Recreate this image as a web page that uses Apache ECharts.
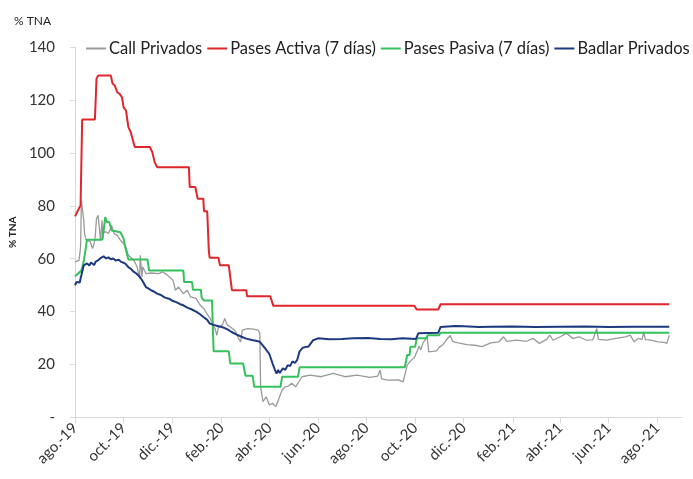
<!DOCTYPE html>
<html>
<head>
<meta charset="utf-8">
<script src="https://cdn.jsdelivr.net/npm/echarts@6/dist/echarts.min.js"></script>
<style>
html,body{margin:0;padding:0;background:#fff;}
#chart{width:693px;height:479px;}
</style>
</head>
<body>
<div id="chart"></div>
<script>
// ---- DATA ----
var tickDates = ['2019-08-01','2019-10-01','2019-12-01','2020-02-01','2020-04-01','2020-06-01','2020-08-01','2020-10-01','2020-12-01','2021-02-01','2021-04-01','2021-06-01','2021-08-01'];
var tickLabels = ['ago.-19','oct.-19','dic.-19','feb.-20','abr.-20','jun.-20','ago.-20','oct.-20','dic.-20','feb.-21','abr.-21','jun.-21','ago.-21'];

var seriesNames = ['Call Privados','Pases Activa (7 días)','Pases Pasiva (7 días)','Badlar Privados'];

var callPrivados = [
['2019-08-01',58.8],['2019-08-06',59.4],['2019-08-08',64.4],['2019-08-09',82.0],['2019-08-12',74.5],['2019-08-13',69.5],
['2019-08-15',67.0],['2019-08-20',66.5],['2019-08-23',63.8],['2019-08-26',67.0],['2019-08-28',75.1],['2019-08-30',76.4],
['2019-09-02',67.0],['2019-09-04',74.5],['2019-09-05',67.5],['2019-09-06',70.1],['2019-09-09',70.1],['2019-09-12',69.5],
['2019-09-16',72.6],['2019-09-19',69.5],['2019-09-23',68.8],['2019-09-27',67.0],['2019-10-03',65.1],['2019-10-07',61.3],
['2019-10-14',59.4],['2019-10-18',56.9],['2019-10-21',52.5],['2019-10-22',61.3],['2019-10-24',53.1],['2019-10-25',56.9],
['2019-10-29',54.4],['2019-11-05',54.6],['2019-11-14',54.4],['2019-11-19',55.0],['2019-11-25',53.8],['2019-12-02',51.9],
['2019-12-05',48.1],['2019-12-09',49.3],['2019-12-15',46.8],['2019-12-20',48.1],['2019-12-24',45.6],['2019-12-31',45.0],
['2020-01-05',42.5],['2020-01-10',41.0],['2020-01-14',39.0],['2020-01-18',37.4],['2020-01-21',35.0],['2020-01-24',33.5],
['2020-01-26',31.0],['2020-01-28',34.0],['2020-02-02',35.0],['2020-02-05',37.4],['2020-02-08',35.0],['2020-02-13',34.0],
['2020-02-18',32.8],['2020-02-22',30.0],['2020-02-25',28.6],['2020-02-27',33.0],['2020-03-05',33.6],['2020-03-12',33.4],
['2020-03-18',33.0],['2020-03-20',31.8],['2020-03-21',11.6],['2020-03-24',6.0],['2020-03-28',7.8],['2020-04-01',4.7],
['2020-04-05',5.4],['2020-04-09',4.1],['2020-04-13',7.2],['2020-04-17',10.4],['2020-04-21',11.6],['2020-04-25',11.9],
['2020-04-29',12.9],['2020-05-04',11.6],['2020-05-08',13.5],['2020-05-12',15.4],['2020-05-22',16.0],['2020-06-05',15.4],
['2020-06-20',16.7],['2020-07-05',15.4],['2020-07-20',16.0],['2020-08-05',15.2],['2020-08-15',15.6],['2020-08-18',17.9],
['2020-08-20',14.6],['2020-08-28',14.1],['2020-09-10',14.2],['2020-09-16',13.5],['2020-09-18',14.0],['2020-09-21',19.8],
['2020-09-25',21.3],['2020-09-30',22.6],['2020-10-04',25.5],['2020-10-06',27.0],['2020-10-08',25.5],['2020-10-11',28.3],
['2020-10-14',29.5],['2020-10-16',31.0],['2020-10-18',24.8],['2020-10-28',25.2],['2020-10-31',26.5],['2020-11-05',27.5],
['2020-11-09',29.2],['2020-11-14',31.0],['2020-11-17',28.8],['2020-11-24',28.2],['2020-12-05',27.5],['2020-12-15',27.3],
['2020-12-24',26.8],['2021-01-04',28.2],['2021-01-14',28.6],['2021-01-20',30.5],['2021-01-24',28.8],['2021-02-05',29.2],
['2021-02-18',28.8],['2021-02-26',29.9],['2021-03-06',28.0],['2021-03-15',29.5],['2021-03-19',31.1],['2021-03-23',29.2],
['2021-04-01',30.5],['2021-04-09',31.8],['2021-04-17',29.9],['2021-04-25',30.5],['2021-05-04',29.2],['2021-05-12',29.3],
['2021-05-17',33.6],['2021-05-19',29.5],['2021-05-29',29.2],['2021-06-10',29.9],['2021-06-22',30.5],['2021-06-28',31.1],
['2021-07-03',28.6],['2021-07-08',29.9],['2021-07-13',29.5],['2021-07-15',32.4],['2021-07-17',29.4],['2021-07-24',29.2],
['2021-08-02',28.6],['2021-08-10',28.4],['2021-08-13',28.0],['2021-08-16',31.1]
];

var pasesActiva = [
['2019-08-01',76.0],['2019-08-08',80.2],['2019-08-10',112.6],['2019-08-26',112.6],['2019-08-28',128.0],['2019-08-30',129.2],
['2019-09-15',129.2],['2019-09-17',126.3],['2019-09-20',125.4],['2019-09-23',122.9],['2019-09-26',122.3],['2019-09-29',121.0],
['2019-10-01',117.2],['2019-10-04',116.0],['2019-10-07',109.7],['2019-10-10',107.8],['2019-10-15',102.2],['2019-11-03',102.2],
['2019-11-06',100.3],['2019-11-09',96.5],['2019-11-12',94.6],['2019-12-22',94.6],['2019-12-23',87.1],['2019-12-30',87.1],
['2020-01-02',82.7],['2020-01-09',82.7],['2020-01-10',77.9],['2020-01-14',77.9],['2020-01-16',63.0],['2020-01-17',60.4],
['2020-01-28',60.4],['2020-01-30',57.5],['2020-02-10',57.5],['2020-02-12',52.9],['2020-02-14',48.1],['2020-03-03',48.1],
['2020-03-04',45.8],['2020-04-02',45.8],['2020-04-06',42.2],['2020-09-30',42.2],['2020-10-03',40.8],['2020-10-30',40.8],
['2020-11-02',42.8],['2021-08-16',42.8]
];

var pasesPasiva = [
['2019-08-01',53.4],['2019-08-09',55.5],['2019-08-12',59.0],['2019-08-14',63.0],['2019-08-16',67.2],['2019-09-04',67.2],
['2019-09-06',70.7],['2019-09-08',75.7],['2019-09-10',73.9],['2019-09-13',73.9],['2019-09-16',70.7],['2019-09-27',70.0],
['2019-10-01',67.6],['2019-10-03',64.4],['2019-10-07',59.7],['2019-10-31',59.7],['2019-11-02',55.5],['2019-12-15',55.5],
['2019-12-16',51.2],['2019-12-26',51.2],['2019-12-27',48.3],['2020-01-06',48.3],['2020-01-07',45.3],['2020-01-09',45.3],
['2020-01-10',44.2],['2020-01-20',44.2],['2020-01-22',25.0],['2020-02-10',25.0],['2020-02-12',20.4],['2020-02-28',20.4],
['2020-03-02',15.8],['2020-03-11',15.8],['2020-03-13',11.6],['2020-04-15',11.6],['2020-04-17',15.4],['2020-05-07',15.4],
['2020-05-09',19.0],['2020-09-18',19.0],['2020-09-21',23.6],['2020-09-24',23.6],['2020-09-25',26.7],['2020-10-01',26.7],
['2020-10-03',29.9],['2020-10-15',29.9],['2020-10-17',31.1],['2020-10-31',31.1],['2020-11-02',32.0],['2021-08-16',32.0]
];

var badlarPrivados = [
['2019-08-01',50.0],['2019-08-03',51.2],['2019-08-05',51.9],['2019-08-07',51.0],['2019-08-08',52.5],['2019-08-12',57.5],
['2019-08-14',56.8],['2019-08-16',58.2],['2019-08-19',57.4],['2019-08-21',58.6],['2019-08-23',58.8],['2019-08-25',57.6],
['2019-08-27',58.9],['2019-08-30',59.4],['2019-09-02',60.2],['2019-09-04',59.5],['2019-09-06',60.9],['2019-09-09',60.1],
['2019-09-12',60.5],['2019-09-15',59.8],['2019-09-18',60.1],['2019-09-21',59.3],['2019-09-25',59.6],['2019-09-28',58.8],
['2019-10-01',58.5],['2019-10-04',57.9],['2019-10-07',56.8],['2019-10-10',56.2],['2019-10-14',55.0],['2019-10-17',54.4],
['2019-10-21',53.3],['2019-10-25',51.5],['2019-10-29',49.3],['2019-11-01',48.8],['2019-11-05',48.0],['2019-11-08',47.6],
['2019-11-12',46.8],['2019-11-16',46.4],['2019-11-22',45.3],['2019-11-27',44.9],['2019-12-02',44.0],['2019-12-06',43.6],
['2019-12-11',42.8],['2019-12-15',42.4],['2019-12-20',41.5],['2019-12-25',40.9],['2019-12-31',40.0],['2020-01-05',39.0],
['2020-01-10',37.8],['2020-01-14',36.9],['2020-01-17',35.5],['2020-01-22',35.0],['2020-01-27',34.6],['2020-02-01',34.2],
['2020-02-05',33.8],['2020-02-09',33.2],['2020-02-13',32.4],['2020-02-20',31.3],['2020-02-26',30.5],['2020-03-03',29.8],
['2020-03-10',29.3],['2020-03-15',29.0],['2020-03-20',28.6],['2020-03-26',26.4],['2020-04-01',24.0],['2020-04-05',20.4],
['2020-04-08',18.0],['2020-04-10',16.6],['2020-04-12',18.0],['2020-04-14',16.8],['2020-04-18',18.6],['2020-04-21',18.0],
['2020-04-24',19.8],['2020-04-27',19.4],['2020-04-30',21.2],['2020-05-03',20.6],['2020-05-06',21.8],['2020-05-09',25.0],
['2020-05-13',26.4],['2020-05-20',26.8],['2020-05-26',29.2],['2020-06-01',29.9],['2020-06-15',29.6],['2020-07-01',29.7],
['2020-07-15',29.9],['2020-08-03',30.0],['2020-08-18',29.7],['2020-09-01',29.6],['2020-09-15',29.9],['2020-10-02',29.7],
['2020-10-05',31.8],['2020-10-30',32.0],['2020-11-02',34.2],['2020-11-20',34.6],['2020-12-01',34.5],['2020-12-20',34.2],
['2021-01-04',34.3],['2021-02-01',34.4],['2021-03-01',34.2],['2021-04-01',34.3],['2021-05-03',34.4],['2021-06-01',34.2],
['2021-07-01',34.3],['2021-08-16',34.3]
];

var seriesColors = ['#9a9a9a','#e0262b','#35c15c','#1d3a7e'];
var seriesWidths = [1.3,2,2,2];
var seriesData = [callPrivados, pasesActiva, pasesPasiva, badlarPrivados];

// ---- CHART ----
var FONT = 'Lato';
function ts(d){ return Date.UTC(+d.slice(0,4), +d.slice(5,7)-1, +d.slice(8,10)); }
var tickTimes = tickDates.map(ts);
var chart = echarts.init(document.getElementById('chart'), null, {renderer:'canvas'});

chart.setOption({
  animation:false,
  backgroundColor:'#ffffff',
  title:{text:'% TNA', left:9, top:10, textStyle:{fontFamily:FONT, fontSize:12, fontWeight:'normal', color:'#222'}},
  legend:{
    left:86, top:40, width:650, padding:0, itemWidth:20, itemHeight:2, itemGap:5, icon:'rect',
    textStyle:{fontFamily:FONT, fontSize:16.5, color:'#222', padding:[0,0,0,-2]},
    data:seriesNames
  },
  grid:{left:72, right:11, top:47, bottom:61.5},
  xAxis:{
    type:'value',
    min:ts('2019-08-01'),
    max:ts('2021-09-01'),
    axisLine:{show:true, lineStyle:{color:'#d9d9d9', width:1}},
    axisTick:{show:true, length:6, lineStyle:{color:'#d9d9d9'}, customValues:tickTimes},
    splitLine:{show:false},
    axisLabel:{
      customValues:tickTimes, rotate:45, margin:8, fontFamily:FONT, fontSize:15, color:'#333',
      formatter:function(v){ var best=0; for(var k=0;k<tickTimes.length;k++){ if(Math.abs(tickTimes[k]-v)<Math.abs(tickTimes[best]-v)) best=k; } return tickLabels[best]; }
    }
  },
  yAxis:{
    type:'value', min:0, max:140, interval:20,
    name:'% TNA', nameLocation:'middle', nameGap:53, nameRotate:90,
    nameTextStyle:{fontFamily:FONT, fontSize:10, fontWeight:'bold', color:'#222'},
    axisLine:{show:true, lineStyle:{color:'#d9d9d9', width:1}},
    axisTick:{show:true, inside:false, length:5, lineStyle:{color:'#d9d9d9'}},
    splitLine:{show:false},
    axisLabel:{margin:20, fontFamily:FONT, fontSize:15, color:'#333', formatter:function(v){ return v===0 ? '-' : String(v); }}
  },
  series: seriesNames.map(function(n,i){
    return {
      name:n, type:'line', showSymbol:false, symbol:'none',
      data:seriesData[i].map(function(p){ return [ts(p[0]), p[1]]; }),
      lineStyle:{color:seriesColors[i], width:seriesWidths[i]},
      itemStyle:{color:seriesColors[i]},
      z: i===0 ? 2 : 3+i
    };
  })
});
</script>
</body>
</html>
